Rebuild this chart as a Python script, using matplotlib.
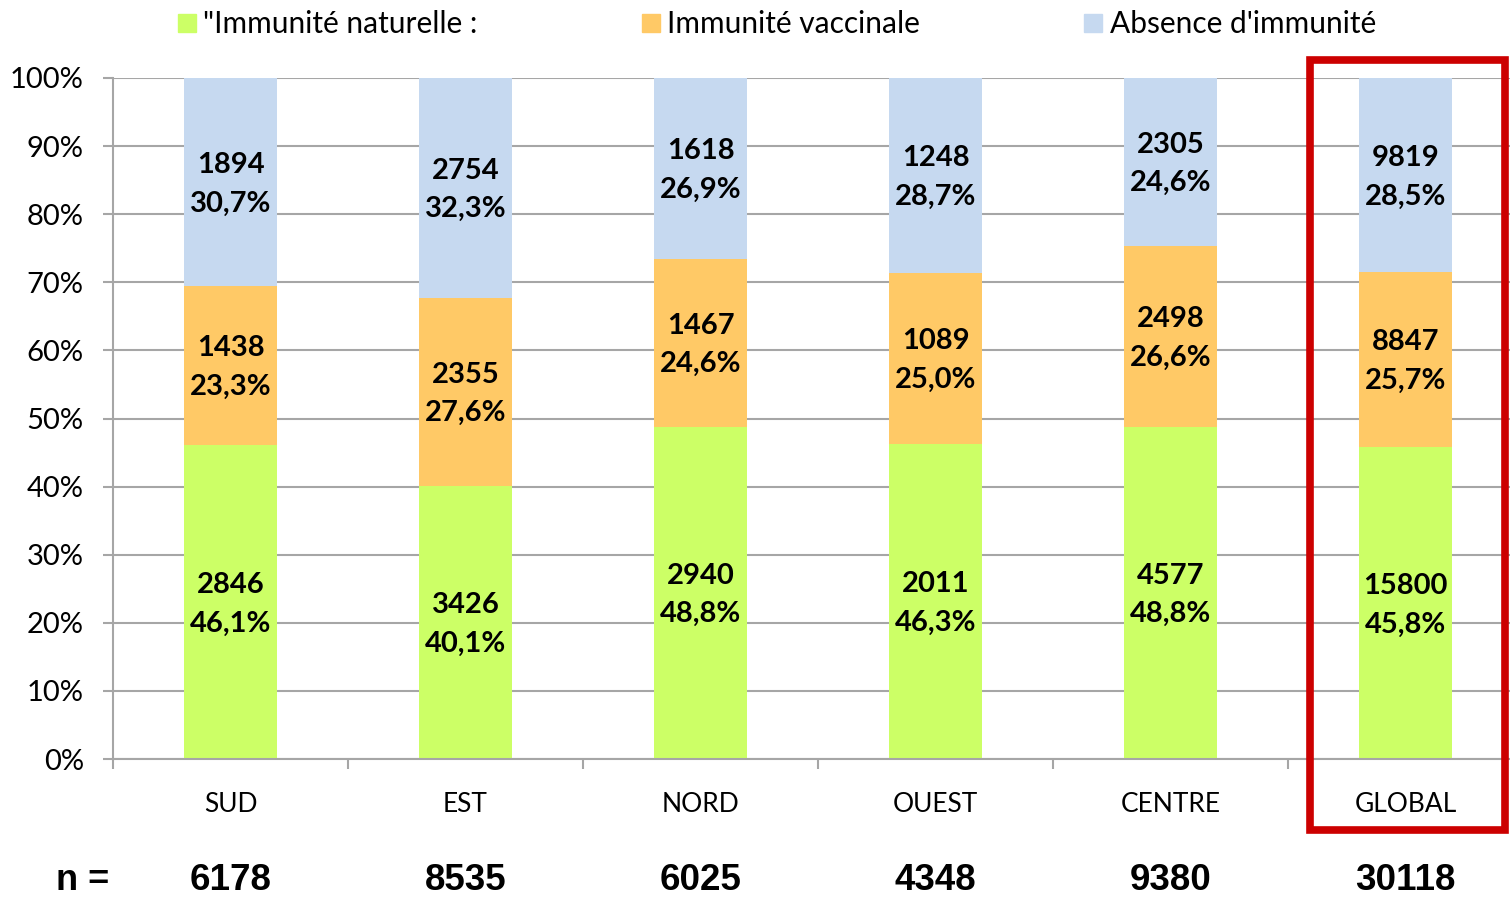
import numpy as np
import matplotlib
matplotlib.use("Agg")
import matplotlib.pyplot as plt
from matplotlib.patches import Rectangle
from matplotlib.lines import Line2D
import matplotlib.transforms as mtransforms

# Regions and sample sizes
regions = ["SUD", "EST", "NORD", "OUEST", "CENTRE", "GLOBAL"]
n_total = [6178, 8535, 6025, 4348, 9380, 30118]

# Counts per immunity status
n_naturelle = [2846, 3426, 2940, 2011, 4577, 15800]
n_vaccinale = [1438, 2355, 1467, 1089, 2498, 8847]
n_absence = [1894, 2754, 1618, 1248, 2305, 9819]

# Percentages per immunity status
pct_naturelle = [46.1, 40.1, 48.8, 46.3, 48.8, 45.8]
pct_vaccinale = [23.3, 27.6, 24.6, 25.0, 26.6, 25.7]
pct_absence = [30.7, 32.3, 26.9, 28.7, 24.6, 28.5]

series_names = ['"Immunité naturelle :', "Immunité vaccinale", "Absence d'immunité"]
colors = ["#CCFF66", "#FFC966", "#C6D9F0"]

plt.rcParams["font.family"] = ["Lato", "DejaVu Sans"]

fig = plt.figure(figsize=(15.1, 9.0), dpi=100)
ax = fig.add_axes([113 / 1510, 141 / 900, 1410 / 1510, 681 / 900])

x = np.arange(len(regions))
width = 0.396
grid_col = "#A6A6A6"

counts = [n_naturelle, n_vaccinale, n_absence]
pcts = [pct_naturelle, pct_vaccinale, pct_absence]

bottom = np.zeros(len(regions))
for name, cnt, pct, col in zip(series_names, counts, pcts, colors):
    vals = np.array(pct)
    ax.bar(x, vals, width, bottom=bottom, color=col, label=name, zorder=2)
    for i in range(len(regions)):
        # centre label in the visible part of the segment
        top = min(bottom[i] + vals[i], 100)
        ymid = (bottom[i] + top) / 2
        label = f"{cnt[i]}\n{vals[i]:.1f}%".replace(".", ",")
        ax.text(x[i], ymid - 0.3, label, ha="center", va="center", fontsize=21,
                fontweight="bold", linespacing=1.6, zorder=3)
    bottom = bottom + vals

ax.set_xlim(-0.5, len(regions) - 0.5)
ax.set_ylim(0, 100)
ax.set_yticks(np.arange(0, 101, 10))
ax.set_yticklabels([f"{v}%" for v in range(0, 101, 10)], fontsize=21)
ax.yaxis.grid(True, color=grid_col, linewidth=1.5, zorder=0)

ax.set_xticks(x)
ax.set_xticklabels(regions, fontsize=19)
ax.set_xticks(np.arange(-0.5, len(regions)), minor=True)
ax.tick_params(axis="x", which="major", length=0, pad=24)
ax.tick_params(axis="x", which="minor", length=7, width=1.5, color=grid_col)
ax.tick_params(axis="y", length=7, width=1.5, color=grid_col, pad=14)

for s in ["top", "right"]:
    ax.spines[s].set_visible(False)
for s in ["left", "bottom"]:
    ax.spines[s].set_color(grid_col)
    ax.spines[s].set_linewidth(1.5)

# n = row under the categories
trans = mtransforms.blended_transform_factory(ax.transData, ax.transAxes)
ax.text(-0.63, -0.179, "n =", transform=trans, ha="center", va="center",
        fontsize=26, fontweight="bold", family="Liberation Sans", clip_on=False)
for i, n in enumerate(n_total):
    ax.text(x[i], -0.179, str(n), transform=trans, ha="center", va="center",
            fontsize=26.5, fontweight="bold", family="Liberation Sans", clip_on=False)

# red frame around the overall column
g = len(regions) - 1
frame = Rectangle((g - 0.407, -10.4), 0.832, 113.0, fill=False,
                  edgecolor="#CC0000", linewidth=5.5, clip_on=False, zorder=4)
ax.add_patch(frame)

handles = [Line2D([], [], marker="s", linestyle="none", markersize=12.5,
                  markerfacecolor=c, markeredgecolor=c) for c in colors]
fig.legend(handles, series_names, loc="center", bbox_to_anchor=(777 / 1510, 1 - 24 / 900),
           ncol=3, frameon=False, fontsize=21.5, handlelength=0.6, handletextpad=0.25,
           columnspacing=5.5, borderpad=0)

fig.savefig("out.png", dpi=100)
